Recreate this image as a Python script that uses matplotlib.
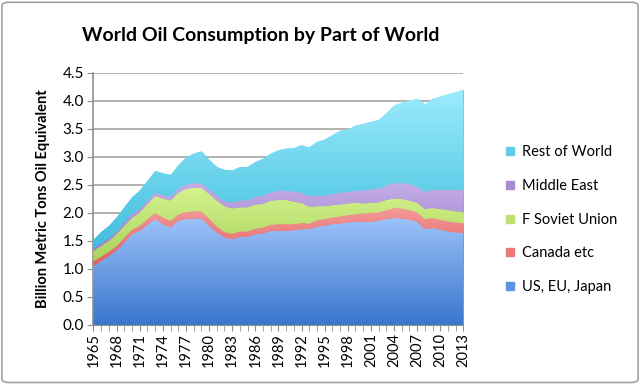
import numpy as np
import matplotlib
matplotlib.use('Agg')
import matplotlib.pyplot as plt
from matplotlib.colors import LinearSegmentedColormap
from matplotlib.patches import FancyBboxPatch

plt.rcParams['font.family'] = ['Lato', 'DejaVu Sans']

years = list(range(1965, 2014))

us_eu_japan = [1.05, 1.14, 1.23, 1.33, 1.47, 1.62, 1.68, 1.79, 1.89, 1.80,
               1.74, 1.86, 1.89, 1.90, 1.90, 1.77, 1.65, 1.56, 1.53, 1.57,
               1.57, 1.62, 1.63, 1.68, 1.68, 1.68, 1.69,
               1.71, 1.71, 1.75, 1.77, 1.80, 1.81, 1.83, 1.84, 1.84, 1.84, 1.86,
               1.89, 1.91, 1.90, 1.88, 1.84, 1.71, 1.73, 1.70, 1.67, 1.65, 1.64]
canada_etc = [0.09, 0.08, 0.08, 0.08, 0.09, 0.08, 0.09, 0.10, 0.11, 0.12,
              0.12, 0.11, 0.13, 0.13, 0.13, 0.13, 0.11, 0.10, 0.10, 0.10,
              0.10, 0.10, 0.11, 0.11, 0.12, 0.12, 0.11,
              0.11, 0.10, 0.12, 0.12, 0.12, 0.13, 0.13, 0.14, 0.15, 0.16, 0.15,
              0.16, 0.18, 0.18, 0.17, 0.17, 0.18, 0.18, 0.18, 0.18, 0.18, 0.18]
f_soviet = [0.18, 0.19, 0.19, 0.21, 0.21, 0.21, 0.24, 0.27, 0.30, 0.34,
            0.36, 0.39, 0.41, 0.42, 0.42, 0.44, 0.46, 0.46, 0.45, 0.43,
            0.43, 0.43, 0.42, 0.43, 0.43, 0.43, 0.40,
            0.36, 0.30, 0.25, 0.23, 0.22, 0.21, 0.21, 0.20, 0.18, 0.18, 0.18,
            0.18, 0.17, 0.17, 0.17, 0.17, 0.18, 0.18, 0.19, 0.20, 0.20, 0.20]
middle_east = [0.05, 0.05, 0.05, 0.05, 0.06, 0.07, 0.06, 0.06, 0.06, 0.06,
               0.07, 0.07, 0.08, 0.08, 0.08, 0.09, 0.09, 0.09, 0.11, 0.12,
               0.13, 0.13, 0.15, 0.15, 0.17, 0.17, 0.18,
               0.18, 0.19, 0.19, 0.19, 0.20, 0.21, 0.21, 0.22, 0.23, 0.24, 0.24,
               0.26, 0.27, 0.28, 0.30, 0.29, 0.31, 0.32, 0.34, 0.36, 0.38, 0.39]
rest_of_world = [0.15, 0.20, 0.22, 0.25, 0.27, 0.30, 0.33, 0.35, 0.39, 0.39,
                 0.39, 0.42, 0.48, 0.53, 0.57, 0.52, 0.51, 0.56, 0.57, 0.60,
                 0.59, 0.63, 0.66, 0.69, 0.72, 0.75, 0.78,
                 0.85, 0.87, 0.96, 1.00, 1.05, 1.11, 1.11, 1.16, 1.19, 1.21, 1.23,
                 1.29, 1.39, 1.44, 1.49, 1.57, 1.56, 1.63, 1.67, 1.71, 1.75, 1.79]

series = [
    ('US, EU, Japan', us_eu_japan, '#3a76cc', '#9cc2fa', '#5b93e0'),
    ('Canada etc', canada_etc, '#e06060', '#f49a9a', '#ec7878'),
    ('F Soviet Union', f_soviet, '#a6d45a', '#d6f28e', '#bde070'),
    ('Middle East', middle_east, '#9c7fcc', '#c4aee8', '#a98bd4'),
    ('Rest of World', rest_of_world, '#40bedd', '#9cecfc', '#5ecde8'),
]


def gradient_layer(ax, x, lower, upper, c_bot, c_top, c_mid):
    poly = ax.fill_between(x, lower, upper, facecolor=c_mid, edgecolor=c_mid,
                           linewidth=0.3, zorder=2)
    cmap = LinearSegmentedColormap.from_list('g', [c_bot, c_top])
    grad = np.linspace(0, 1, 256).reshape(-1, 1)
    im = ax.imshow(grad, cmap=cmap, aspect='auto', origin='lower',
                   extent=[x[0], x[-1], lower.min(), upper.max()],
                   zorder=3, interpolation='bilinear')
    im.set_clip_path(poly.get_paths()[0], transform=ax.transData)
    return poly


fig = plt.figure(figsize=(6.4, 3.84), dpi=100)
ax = fig.add_axes([0.146, 0.154, 0.578, 0.656])

x = np.array(years, dtype=float)
base = np.zeros(len(years))
handles = []
for name, vals, c_bot, c_top, c_mid in series:
    top = base + np.array(vals)
    gradient_layer(ax, x, base, top, c_bot, c_top, c_mid)
    handles.append(plt.Line2D([], [], marker='s', linestyle='none',
                              markersize=6, markerfacecolor=c_mid,
                              markeredgecolor=c_mid, label=name))
    base = top

ax.set_xlim(1965, 2013)
ax.set_ylim(0, 4.5)
ax.set_yticks(np.arange(0, 4.51, 0.5))
ax.set_yticklabels([f'{v:.1f}' for v in np.arange(0, 4.51, 0.5)], fontsize=11)
ax.set_xticks(years[::3])
ax.set_xticklabels([str(y) for y in years[::3]], rotation=90, fontsize=10.5)
ax.set_xticks(years, minor=True)
ax.tick_params(axis='x', which='both', direction='out', length=4, color='#909090', pad=2)
ax.tick_params(axis='y', length=4, color='#909090', pad=3)
ax.grid(axis='y', color='#a6a6a6', linewidth=1.2, zorder=1)
ax.set_axisbelow(True)
for s in ['top', 'right']:
    ax.spines[s].set_visible(False)
ax.spines['left'].set_color('#909090')
ax.spines['bottom'].set_color('#909090')
ax.spines['left'].set_linewidth(1.2)

ax.set_ylabel('Billion Metric Tons Oil Equivalent', fontsize=10.5,
              fontweight='bold', labelpad=9)
fig.text(0.408, 0.908, 'World Oil Consumption by Part of World',
         ha='center', va='center', fontsize=14, fontweight='bold')

fig.legend(handles=handles[::-1], loc='center left',
           bbox_to_anchor=(0.765, 0.428), frameon=False, fontsize=10.5,
           labelspacing=1.35, handletextpad=0.3, handlelength=1.0)

fig.patches.append(FancyBboxPatch((0.003, 0.004), 0.994, 0.99,
                                  boxstyle='round,pad=0,rounding_size=0.01',
                                  transform=fig.transFigure, fill=False,
                                  edgecolor='#a0a0a0', linewidth=1.2))

fig.savefig('out.png', dpi=100)
plt.close(fig)
